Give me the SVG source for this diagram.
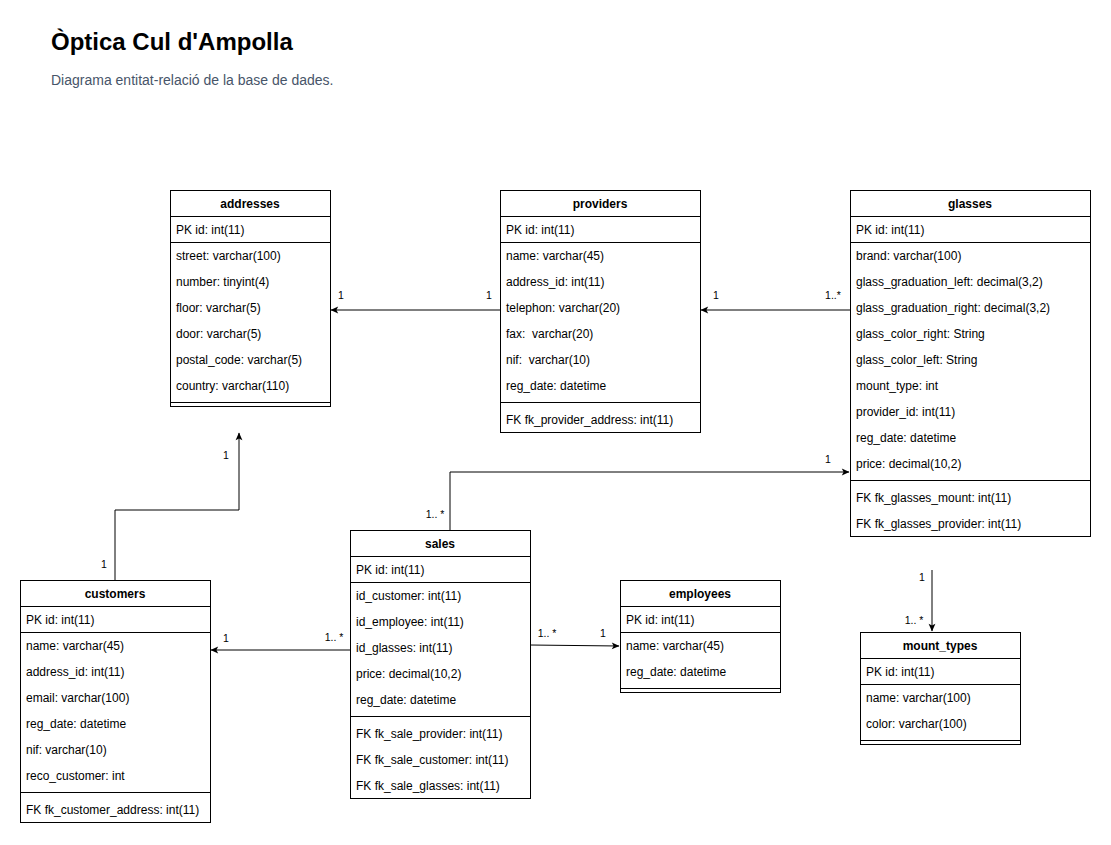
<svg xmlns="http://www.w3.org/2000/svg" width="1111" height="845" viewBox="0 0 1111 845">
<style>
.box{fill:#fff;stroke:#000;stroke-width:1}
.sep{stroke:#000;stroke-width:1;fill:none}
.hd{font-family:"Liberation Sans",Arial,sans-serif;font-size:12px;font-weight:bold;fill:#000;text-anchor:middle}
.f{font-family:"Liberation Sans",Arial,sans-serif;font-size:12px;fill:#000;white-space:pre}
.lbl{font-family:"Liberation Sans",Arial,sans-serif;font-size:10.5px;fill:#000;text-anchor:middle;white-space:pre}
.edge{stroke:#000;stroke-width:1;fill:none;marker-end:url(#arr)}
</style>
<defs>
<marker id="arr" viewBox="0 0 10 10" refX="9" refY="5" markerWidth="9" markerHeight="9" markerUnits="userSpaceOnUse" orient="auto">
<path d="M1,1.2 L9.5,5 L1,8.8 L3,5 z" fill="#000"/>
</marker>
</defs>
<rect width="1111" height="845" fill="#fff"/>
<text x="51" y="50" style="font-family:'Liberation Sans',Arial,sans-serif;font-size:24px;font-weight:bold;fill:#000">Òptica Cul d'Ampolla</text>
<text x="51" y="85" style="font-family:'Liberation Sans',Arial,sans-serif;font-size:14px;fill:#475569">Diagrama entitat-relació de la base de dades.</text>

<g id="connectors">
<path class="edge" d="M500,310 H331"/>
<path class="edge" d="M850,310 H701"/>
<path class="edge" d="M115,580 V510 H239 V433"/>
<path class="edge" d="M350,650 H211"/>
<path class="edge" d="M530,645 L619,646"/>
<path class="edge" d="M450,530 V472 H849"/>
<path class="edge" d="M932,570 V631"/>
<text class="lbl" x="341" y="299">1</text>
<text class="lbl" x="489" y="299">1</text>
<text class="lbl" x="716" y="299">1</text>
<text class="lbl" x="833" y="299">1..*</text>
<text class="lbl" x="226" y="459">1</text>
<text class="lbl" x="104" y="568">1</text>
<text class="lbl" x="226" y="642">1</text>
<text class="lbl" x="334" y="641">1.. *</text>
<text class="lbl" x="547" y="637">1.. *</text>
<text class="lbl" x="603" y="637">1</text>
<text class="lbl" x="435" y="518">1.. *</text>
<text class="lbl" x="828" y="463">1</text>
<text class="lbl" x="922" y="581">1</text>
<text class="lbl" x="914" y="624">1.. *</text>
</g>

<g id="addresses">
<rect class="box" x="170.5" y="190.5" width="160" height="216"/>
<path class="sep" d="M170.5,216.5 H330.5 M170.5,242.5 H330.5 M170.5,402.5 H330.5"/>
<text class="hd" x="250" y="208">addresses</text>
<text class="f" x="176" y="234">PK id: int(11)</text>
<text class="f" x="176" y="260">street: varchar(100)</text>
<text class="f" x="176" y="286">number: tinyint(4)</text>
<text class="f" x="176" y="312">floor: varchar(5)</text>
<text class="f" x="176" y="338">door: varchar(5)</text>
<text class="f" x="176" y="364">postal_code: varchar(5)</text>
<text class="f" x="176" y="390">country: varchar(110)</text>
</g>

<g id="providers">
<rect class="box" x="500.5" y="190.5" width="200" height="242"/>
<path class="sep" d="M500.5,216.5 H700.5 M500.5,242.5 H700.5 M500.5,402.5 H700.5"/>
<text class="hd" x="600" y="208">providers</text>
<text class="f" x="506" y="234">PK id: int(11)</text>
<text class="f" x="506" y="260">name: varchar(45)</text>
<text class="f" x="506" y="286">address_id: int(11)</text>
<text class="f" x="506" y="312">telephon: varchar(20)</text>
<text class="f" x="506" y="338">fax:  varchar(20)</text>
<text class="f" x="506" y="364">nif:  varchar(10)</text>
<text class="f" x="506" y="390">reg_date: datetime</text>
<text class="f" x="506" y="424">FK fk_provider_address: int(11)</text>
</g>

<g id="glasses">
<rect class="box" x="850.5" y="190.5" width="240" height="346"/>
<path class="sep" d="M850.5,216.5 H1090.5 M850.5,242.5 H1090.5 M850.5,480.5 H1090.5"/>
<text class="hd" x="970" y="208">glasses</text>
<text class="f" x="856" y="234">PK id: int(11)</text>
<text class="f" x="856" y="260">brand: varchar(100)</text>
<text class="f" x="856" y="286">glass_graduation_left: decimal(3,2)</text>
<text class="f" x="856" y="312">glass_graduation_right: decimal(3,2)</text>
<text class="f" x="856" y="338">glass_color_right: String</text>
<text class="f" x="856" y="364">glass_color_left: String</text>
<text class="f" x="856" y="390">mount_type: int</text>
<text class="f" x="856" y="416">provider_id: int(11)</text>
<text class="f" x="856" y="442">reg_date: datetime</text>
<text class="f" x="856" y="468">price: decimal(10,2)</text>
<text class="f" x="856" y="502">FK fk_glasses_mount: int(11)</text>
<text class="f" x="856" y="528">FK fk_glasses_provider: int(11)</text>
</g>

<g id="customers">
<rect class="box" x="20.5" y="580.5" width="190" height="242"/>
<path class="sep" d="M20.5,606.5 H210.5 M20.5,632.5 H210.5 M20.5,792.5 H210.5"/>
<text class="hd" x="115" y="598">customers</text>
<text class="f" x="26" y="624">PK id: int(11)</text>
<text class="f" x="26" y="650">name: varchar(45)</text>
<text class="f" x="26" y="676">address_id: int(11)</text>
<text class="f" x="26" y="702">email: varchar(100)</text>
<text class="f" x="26" y="728">reg_date: datetime</text>
<text class="f" x="26" y="754">nif: varchar(10)</text>
<text class="f" x="26" y="780">reco_customer: int</text>
<text class="f" x="26" y="814">FK fk_customer_address: int(11)</text>
</g>

<g id="sales">
<rect class="box" x="350.5" y="530.5" width="180" height="268"/>
<path class="sep" d="M350.5,556.5 H530.5 M350.5,582.5 H530.5 M350.5,716.5 H530.5"/>
<text class="hd" x="440" y="548">sales</text>
<text class="f" x="356" y="574">PK id: int(11)</text>
<text class="f" x="356" y="600">id_customer: int(11)</text>
<text class="f" x="356" y="626">id_employee: int(11)</text>
<text class="f" x="356" y="652">id_glasses: int(11)</text>
<text class="f" x="356" y="678">price: decimal(10,2)</text>
<text class="f" x="356" y="704">reg_date: datetime</text>
<text class="f" x="356" y="738">FK fk_sale_provider: int(11)</text>
<text class="f" x="356" y="764">FK fk_sale_customer: int(11)</text>
<text class="f" x="356" y="790">FK fk_sale_glasses: int(11)</text>
</g>

<g id="employees">
<rect class="box" x="620.5" y="580.5" width="160" height="112"/>
<path class="sep" d="M620.5,606.5 H780.5 M620.5,632.5 H780.5 M620.5,688.5 H780.5"/>
<text class="hd" x="700" y="598">employees</text>
<text class="f" x="626" y="624">PK id: int(11)</text>
<text class="f" x="626" y="650">name: varchar(45)</text>
<text class="f" x="626" y="676">reg_date: datetime</text>
</g>

<g id="mount_types">
<rect class="box" x="860.5" y="632.5" width="160" height="112"/>
<path class="sep" d="M860.5,658.5 H1020.5 M860.5,684.5 H1020.5 M860.5,740.5 H1020.5"/>
<text class="hd" x="940" y="650">mount_types</text>
<text class="f" x="866" y="676">PK id: int(11)</text>
<text class="f" x="866" y="702">name: varchar(100)</text>
<text class="f" x="866" y="728">color: varchar(100)</text>
</g>
</svg>
